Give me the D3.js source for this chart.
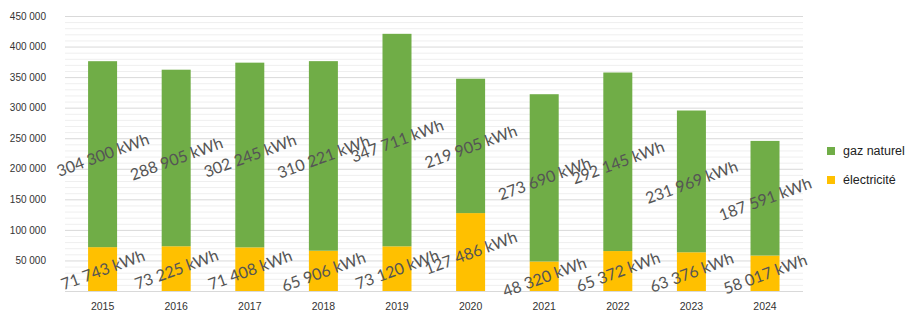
<!DOCTYPE html>
<html><head><meta charset="utf-8">
<script src="https://cdn.jsdelivr.net/npm/d3@7"></script>
<style>body{margin:0;background:#fff}svg{display:block}</style>
</head><body><svg id="c" width="907" height="312"></svg>
<script>
const years = ["2015","2016","2017","2018","2019","2020","2021","2022","2023","2024"];
const electricite = [71743, 73225, 71408, 65906, 73120, 127486, 48320, 65372, 63376, 58017];
const gazNaturel = [304300, 288905, 302245, 310221, 347711, 219905, 273690, 292145, 231969, 187591];
const seriesKeys = ["electricite", "gaz"];
const seriesNames = ["électricité", "gaz naturel"];
const seriesColors = ["#FFC000", "#70AD47"];
const yTickValues = [50000,100000,150000,200000,250000,300000,350000,400000,450000];
const yMax = 450000;

const locale = d3.formatLocale({decimal:",", thousands:" ", grouping:[3], currency:["",""]});
const fmt = locale.format(",d");

const svg = d3.select("#c");
const x = d3.scaleBand().domain(years).range([66, 801.6]).paddingInner(0.606).paddingOuter(0.3);
const y = d3.scaleLinear().domain([0, yMax]).range([291, 16]);

const rows = years.map((yr,i)=>({year:yr, electricite:electricite[i], gaz:gazNaturel[i]}));
const stacked = d3.stack().keys(seriesKeys)(rows);

// gridlines
const minor = d3.range(10000, yMax, 10000).filter(v => v % 50000 !== 0);
svg.append("g").selectAll("line").data(minor).join("line")
  .attr("x1", 65).attr("x2", 803).attr("y1", d=>y(d)+0.5).attr("y2", d=>y(d)+0.5)
  .attr("stroke", "#efefef").attr("stroke-width", 1);
svg.append("g").selectAll("line").data([0].concat(yTickValues)).join("line")
  .attr("x1", 65).attr("x2", 803).attr("y1", d=>y(d)+0.5).attr("y2", d=>y(d)+0.5)
  .attr("stroke", "#d9d9d9").attr("stroke-width", 1);

// y axis
const yAxis = svg.append("g").attr("transform","translate(46,0)")
  .call(d3.axisLeft(y).tickValues(yTickValues).tickFormat(fmt).tickSize(0).tickPadding(0));
yAxis.select(".domain").remove();
yAxis.selectAll("text").attr("font-family","'Liberation Sans', Arial, sans-serif").attr("font-size","10px").attr("fill","#333");

// x axis
const xAxis = svg.append("g").attr("transform","translate(0,303)")
  .call(d3.axisBottom(x).tickSize(0).tickPadding(0));
xAxis.select(".domain").remove();
xAxis.selectAll("text").attr("font-family","'Liberation Sans', Arial, sans-serif").attr("font-size","10.5px").attr("fill","#333").attr("dy","0.71em");

// bars
const layers = svg.append("g").selectAll("g").data(stacked).join("g")
  .attr("fill", (d,i)=>seriesColors[i]);
layers.selectAll("rect").data(d=>d).join("rect")
  .attr("x", d=>x(d.data.year)).attr("width", x.bandwidth())
  .attr("y", d=>y(d[1])).attr("height", d=>y(d[0])-y(d[1]));

// data labels
const labels = svg.append("g");
stacked.forEach((layer)=>{
  labels.selectAll(null).data(layer).join("text")
    .attr("transform", d=>`translate(${x(d.data.year)+x.bandwidth()/2},${y((d[0]+d[1])/2)}) rotate(-20)`)
    .attr("text-anchor","middle").attr("dominant-baseline","central")
    .attr("font-family","Lato, 'Open Sans', sans-serif").attr("font-size","16px")
    .attr("fill","#555")
    .text(d=>fmt(d[1]-d[0]) + " kWh");
});

// legend
const legendOrder = [1,0];
const leg = svg.append("g").selectAll("g").data(legendOrder).join("g")
  .attr("transform",(d,i)=>`translate(827,${147 + i*29})`);
leg.append("rect").attr("width",8).attr("height",8).attr("fill",d=>seriesColors[d]);
leg.append("text").attr("x",16).attr("y",7.5)
  .attr("font-family","'Liberation Sans', Arial, sans-serif").attr("font-size","12.5px").attr("fill","#222")
  .text(d=>seriesNames[d]);
</script>
</body></html>
